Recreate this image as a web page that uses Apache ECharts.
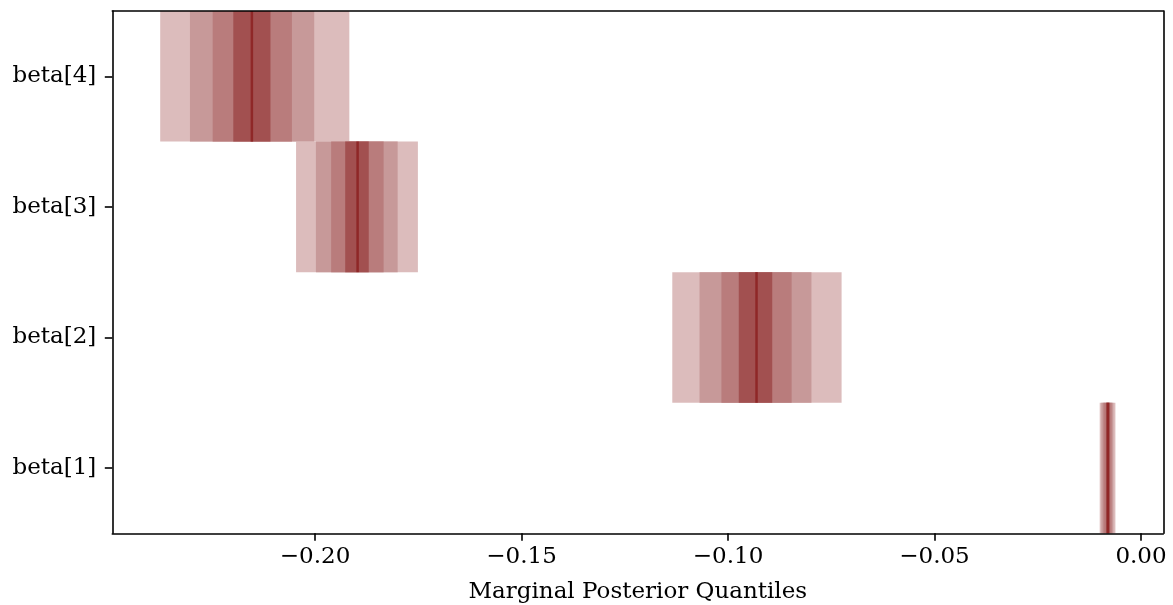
<!DOCTYPE html>
<html>
<head>
<meta charset="utf-8">
<script src="https://cdn.jsdelivr.net/npm/echarts@6/dist/echarts.min.js"></script>
<style>
  html, body { margin: 0; padding: 0; background: #fff; }
  #chart { width: 1173px; height: 605px; }
</style>
</head>
<body>
<div id="chart"></div>
<script>
// Parameters, bottom to top
const categories = ['beta[1]', 'beta[2]', 'beta[3]', 'beta[4]'];

// Marginal posterior quantiles (10% ... 90%) for each parameter
const q10 = [-0.0100, -0.1135, -0.2046, -0.2375];
const q20 = [-0.0096, -0.1069, -0.1998, -0.2303];
const q30 = [-0.0091, -0.1016, -0.1961, -0.2248];
const q40 = [-0.0085, -0.0974, -0.1927, -0.2198];
const q50 = [-0.0080, -0.0931, -0.1897, -0.2153];
const q60 = [-0.0076, -0.0893, -0.1870, -0.2108];
const q70 = [-0.0071, -0.0846, -0.1834, -0.2056];
const q80 = [-0.0067, -0.0798, -0.1800, -0.2002];
const q90 = [-0.0062, -0.0725, -0.1751, -0.1917];

// Tick values on the x axis
const xTicks = [-0.20, -0.15, -0.10, -0.05, 0.00];

const X_MIN = -0.2491;
const X_MAX = 0.0054;

const FONT = 'DejaVu Serif';
const FS = 23;

const cLight = '#DCBCBC';
const cLightHighlight = '#C79999';
const cMid = '#B97C7C';
const cMidHighlight = '#A25050';
const cDark = '#8F2727';

function bandData(lo, hi) {
  return categories.map((c, i) => [i, lo[i], hi[i]]);
}

function bandSeries(lo, hi, color) {
  return {
    type: 'custom',
    xAxisIndex: 0,
    yAxisIndex: 0,
    data: bandData(lo, hi),
    encode: { x: [1, 2], y: 0 },
    silent: true,
    renderItem: function (params, api) {
      const idx = api.value(0);
      const p0 = api.coord([api.value(1), idx]);
      const p1 = api.coord([api.value(2), idx]);
      const h = api.size([0, 1])[1];
      return {
        type: 'rect',
        shape: { x: p0[0], y: p0[1] - h / 2, width: p1[0] - p0[0], height: h },
        style: { fill: color }
      };
    }
  };
}

const medianSeries = {
  type: 'custom',
  xAxisIndex: 0,
  yAxisIndex: 0,
  data: categories.map((c, i) => [i, q50[i]]),
  encode: { x: 1, y: 0 },
  silent: true,
  renderItem: function (params, api) {
    const idx = api.value(0);
    const p = api.coord([api.value(1), idx]);
    const h = api.size([0, 1])[1];
    return {
      type: 'line',
      shape: { x1: p[0], y1: p[1] - h / 2, x2: p[0], y2: p[1] + h / 2 },
      style: { stroke: cDark, lineWidth: 2.5 }
    };
  }
};

const axisLineStyle = { color: '#000', width: 1.6 };

const chart = echarts.init(document.getElementById('chart'), null, { renderer: 'canvas' });
chart.setOption({
  animation: false,
  backgroundColor: '#fff',
  grid: {
    left: 112.3, right: 9.7, top: 11, bottom: 71.7,
    containLabel: false,
    outerBoundsMode: 'none'
  },
  xAxis: [
    {
      type: 'value',
      min: X_MIN,
      max: X_MAX,
      z: 10,
      splitLine: { show: false },
      axisLine: { show: true, onZero: false, lineStyle: axisLineStyle },
      axisTick: { show: true, length: 7.5, customValues: xTicks, lineStyle: { color: '#000', width: 1.6 } },
      axisLabel: {
        customValues: xTicks,
        margin: 12,
        color: '#000',
        fontFamily: FONT,
        fontSize: FS,
        formatter: v => v.toFixed(2).replace('-', '\u2212')
      },
      name: 'Marginal Posterior Quantiles',
      nameLocation: 'middle',
      nameGap: 47,
      nameTextStyle: { color: '#000', fontFamily: FONT, fontSize: FS }
    },
    {
      type: 'value',
      position: 'top',
      min: X_MIN,
      max: X_MAX,
      z: 10,
      splitLine: { show: false },
      axisLine: { show: true, onZero: false, lineStyle: axisLineStyle },
      axisTick: { show: false },
      axisLabel: { show: false }
    }
  ],
  yAxis: [
    {
      type: 'category',
      data: categories,
      boundaryGap: true,
      position: 'left',
      z: 10,
      axisLine: { show: true, onZero: false, lineStyle: axisLineStyle },
      axisTick: { show: true, alignWithLabel: true, length: 7.5, lineStyle: { color: '#000', width: 1.6 } },
      axisLabel: { margin: 16, color: '#000', fontFamily: FONT, fontSize: FS },
      splitLine: { show: false }
    },
    {
      type: 'category',
      data: categories,
      position: 'right',
      z: 10,
      axisLine: { show: true, onZero: false, lineStyle: axisLineStyle },
      axisTick: { show: false },
      axisLabel: { show: false },
      splitLine: { show: false }
    }
  ],
  series: [
    bandSeries(q10, q90, cLight),
    bandSeries(q20, q80, cLightHighlight),
    bandSeries(q30, q70, cMid),
    bandSeries(q40, q60, cMidHighlight),
    medianSeries
  ]
});
</script>
</body>
</html>
